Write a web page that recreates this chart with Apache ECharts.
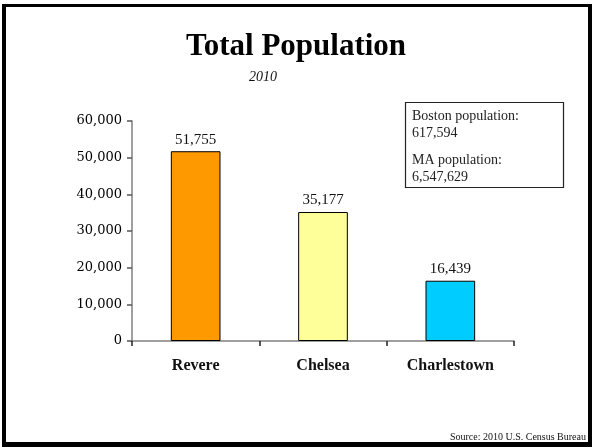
<!DOCTYPE html>
<html><head><meta charset="utf-8">
<script src="https://cdn.jsdelivr.net/npm/echarts@6/dist/echarts.min.js"></script>
<style>html,body{margin:0;padding:0;background:#fff}#c{width:592px;height:447px}</style>
</head><body><div id="c"></div>
<script>
const categories = ['Revere', 'Chelsea', 'Charlestown'];
const populations = [51755, 35177, 16439];
const barColors = ['#FF9900', '#FFFF99', '#00CCFF'];
const yTicks = [0, 10000, 20000, 30000, 40000, 50000, 60000];
const titleText = 'Total Population';
const subtitleText = '2010';
const noteLines = ['Boston population:', '617,594', 'MA population:', '6,547,629'];
const sourceText = 'Source: 2010 U.S. Census Bureau';

const fmt = v => v.toLocaleString('en-US');
const chart = echarts.init(document.getElementById('c'), null, {renderer: 'canvas'});
const serif = '"Liberation Serif", "Times New Roman", serif';
chart.setOption({
  animation: false,
  backgroundColor: '#fff',
  grid: {left: 132, right: 78, top: 121, bottom: 106},
  xAxis: {
    type: 'category', data: categories,
    axisLine: {lineStyle: {color: '#808080', width: 1.5}},
    axisTick: {show: true, inside: false, length: 5, lineStyle: {color: '#222', width: 1.5}},
    axisLabel: {margin: 17, fontFamily: serif, fontWeight: 'bold', fontSize: 16, color: '#111'}
  },
  yAxis: {
    type: 'value', min: yTicks[0], max: yTicks[yTicks.length - 1], interval: yTicks[1] - yTicks[0],
    splitLine: {show: false},
    axisLine: {show: true, lineStyle: {color: '#808080', width: 1.5}},
    axisTick: {show: true, length: 5, lineStyle: {color: '#555', width: 1.5}},
    axisLabel: {margin: 10, fontFamily: '"DejaVu Serif", serif', fontSize: 13, color: '#000', formatter: fmt}
  },
  series: [{
    type: 'bar', barWidth: '39%',
    data: populations.map((v, i) => ({value: v, itemStyle: {color: barColors[i]}})),
    itemStyle: {borderColor: '#000', borderWidth: 1},
    label: {show: true, position: 'top', distance: 4, fontFamily: serif, fontSize: 15, color: '#111', formatter: p => fmt(p.value)}
  }],
  graphic: [
    {type: 'rect', shape: {x: 2, y: 4, width: 590, height: 3}, style: {fill: '#000'}},
    {type: 'rect', shape: {x: 2, y: 4, width: 4, height: 443}, style: {fill: '#000'}},
    {type: 'rect', shape: {x: 588, y: 4, width: 4, height: 443}, style: {fill: '#000'}},
    {type: 'rect', shape: {x: 2, y: 442, width: 590, height: 5}, style: {fill: '#000'}},
    {type: 'text', x: 296, y: 47, style: {text: titleText, font: 'bold 31px ' + serif, fill: '#000', textAlign: 'center', textVerticalAlign: 'middle'}},
    {type: 'text', x: 263, y: 77, style: {text: subtitleText, font: 'italic 14px ' + serif, fill: '#111', textAlign: 'center', textVerticalAlign: 'middle'}},
    {type: 'rect', shape: {x: 405.5, y: 102.5, width: 158, height: 85}, style: {fill: '#fff', stroke: '#222', lineWidth: 1.2}},
    {type: 'text', x: 412, y: 116, style: {text: noteLines[0], font: '14px ' + serif, fill: '#222', textVerticalAlign: 'middle'}},
    {type: 'text', x: 412, y: 133, style: {text: noteLines[1], font: '14px ' + serif, fill: '#222', textVerticalAlign: 'middle'}},
    {type: 'text', x: 412, y: 160, style: {text: noteLines[2], font: '14px ' + serif, fill: '#222', textVerticalAlign: 'middle'}},
    {type: 'text', x: 412, y: 177, style: {text: noteLines[3], font: '14px ' + serif, fill: '#222', textVerticalAlign: 'middle'}},
    {type: 'text', x: 586, y: 437, style: {text: sourceText, font: '10px ' + serif, fill: '#111', textAlign: 'right', textVerticalAlign: 'middle'}}
  ]
});
</script></body></html>
